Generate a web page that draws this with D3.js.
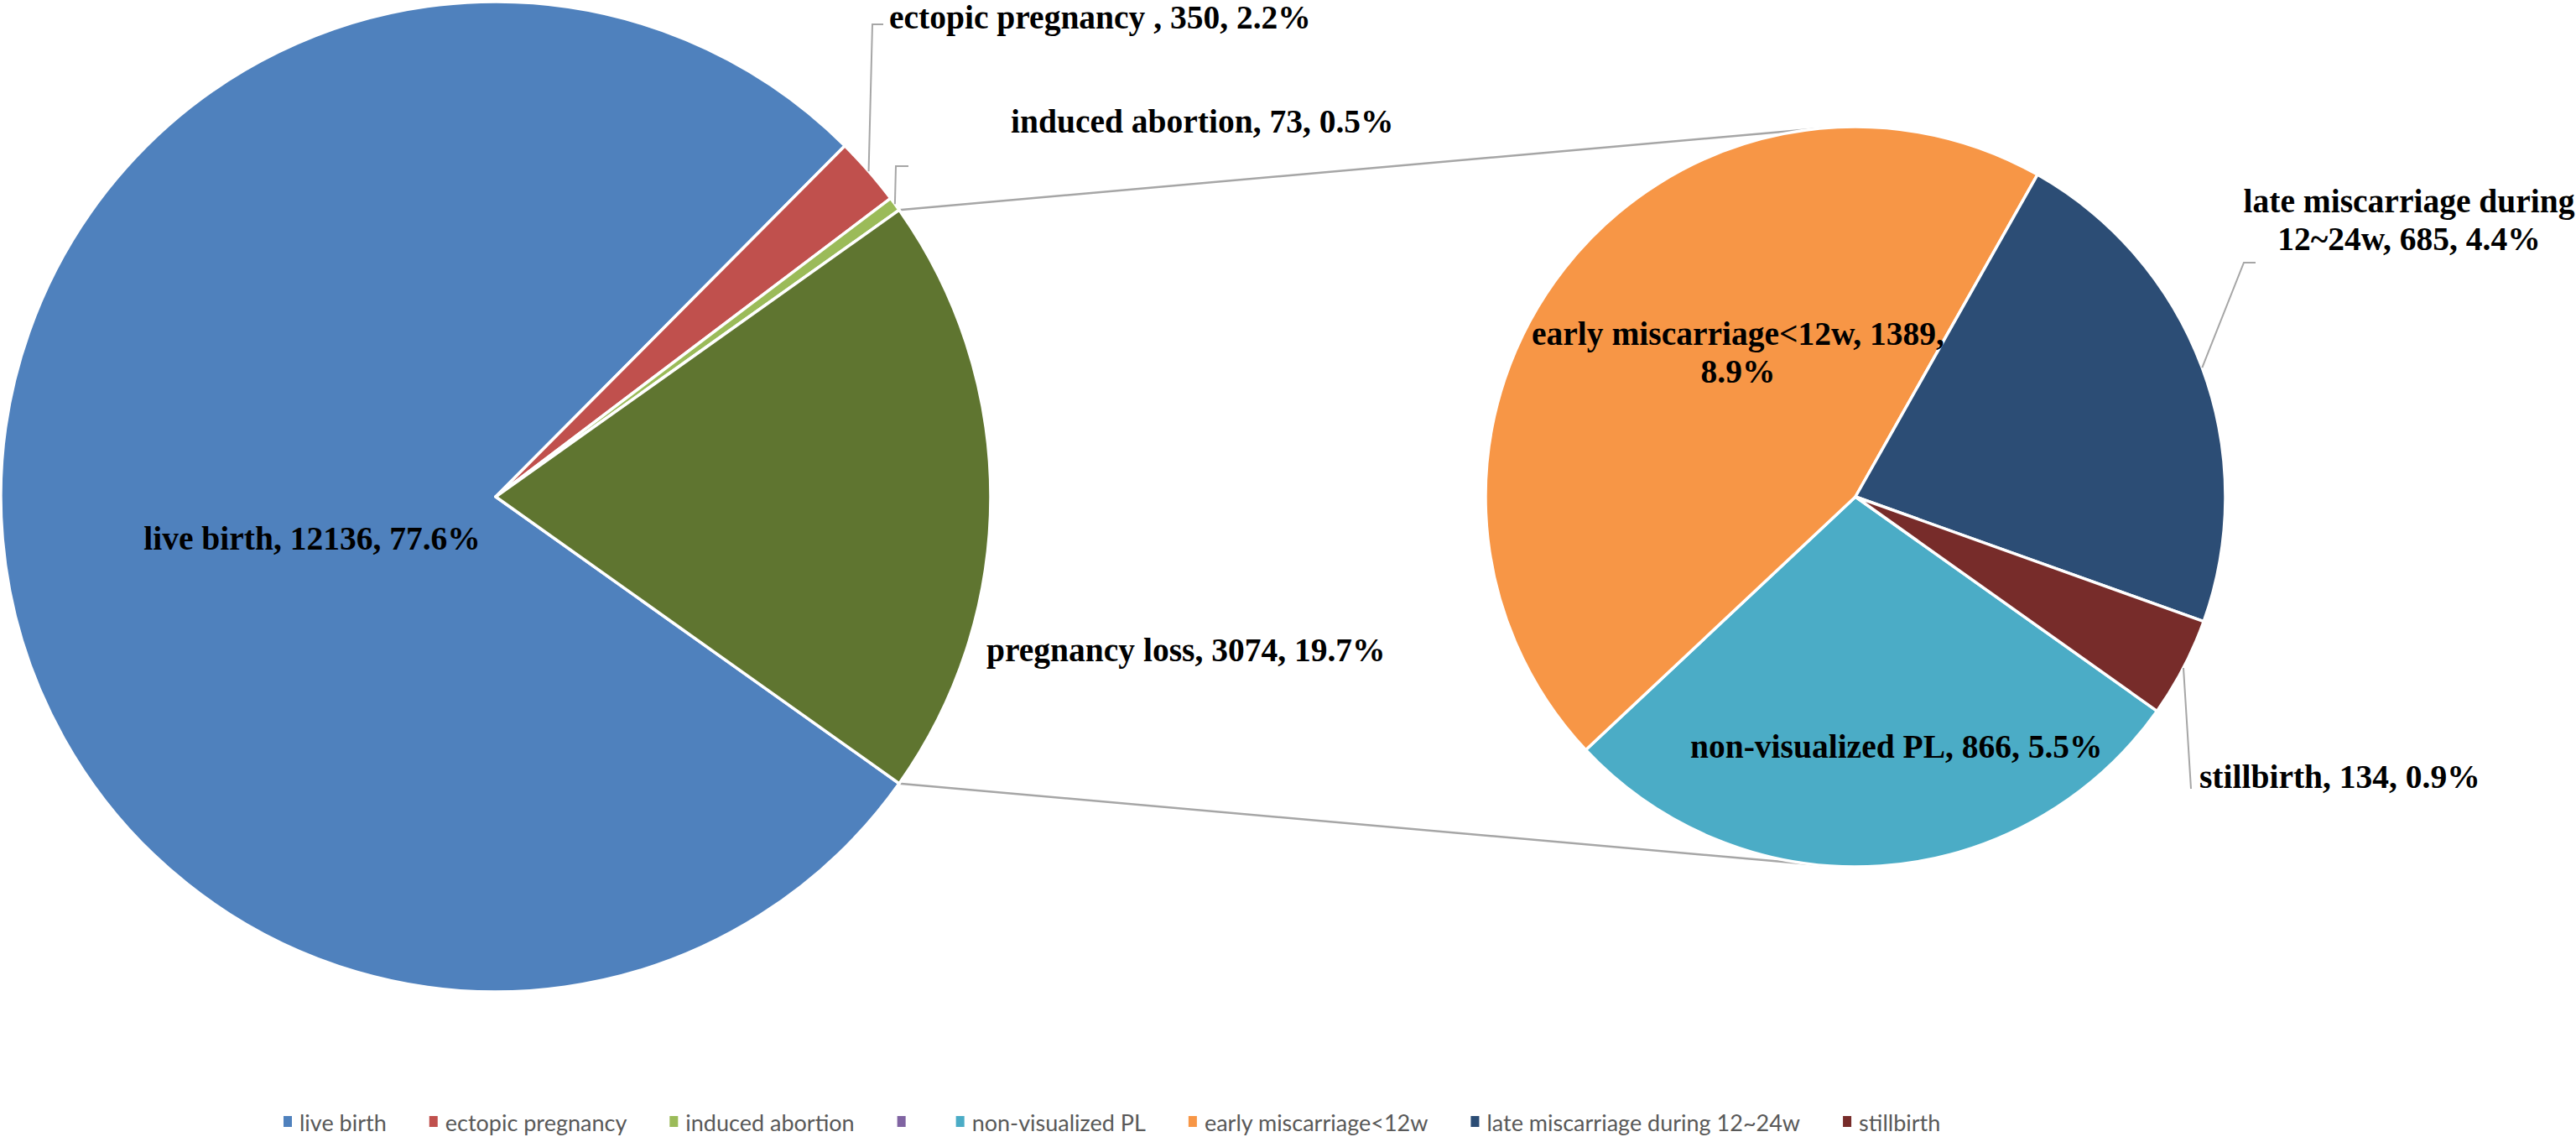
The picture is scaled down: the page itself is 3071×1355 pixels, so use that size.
<!DOCTYPE html>
<html>
<head>
<meta charset="utf-8">
<script src="https://cdn.jsdelivr.net/npm/d3@7"></script>
<style>
  body { margin: 0; background: #fff; }
  svg { display: block; }
</style>
</head>
<body>
<div id="chart"></div>
<script>
// ----------------------------------------
// DATA
// ----------------------------------------
const mainCategories = ["live birth", "ectopic pregnancy ", "induced abortion", "pregnancy loss"];
const mainCounts = [12136, 350, 73, 3074];
const mainColors = ["#4F81BD", "#C0504D", "#9BBB59", "#5F7530"];

const subCategories = ["non-visualized PL", "early miscarriage<12w", "late miscarriage during 12~24w", "stillbirth"];
const subCounts = [866, 1389, 685, 134];
const subColors = ["#4BACC6", "#F79646", "#2C4D75", "#772C2A"];

const legendLabels = ["live birth", "ectopic pregnancy", "induced abortion", "",
  "non-visualized PL", "early miscarriage<12w", "late miscarriage during 12~24w", "stillbirth"];
const legendColors = ["#4F81BD", "#C0504D", "#9BBB59", "#8064A2",
  "#4BACC6", "#F79646", "#2C4D75", "#772C2A"];

// ----------------------------------------
// LAYOUT
// ----------------------------------------
const width = 3071, height = 1355;
const left = { cx: 591, cy: 592, r: 590 };
const right = { cx: 2212, cy: 592, r: 441 };

// label placement per category (x, y, anchor, line break, leader elbow)
const mainLabelPos = [
  { x: 372, y: 642, anchor: "middle" },
  { x: 1060, y: 21, anchor: "start", leader: [[1040, 29], [1053, 29]] },
  { x: 1205, y: 145, anchor: "start", leader: [[1068, 198], [1083, 198]] },
  { x: 1176, y: 775, anchor: "start" }
];
const subLabelPos = [
  { x: 2015, y: 890, anchor: "start" },
  { x: 2072, y: 398, anchor: "middle", breakAfter: 3 },
  { x: 2872, y: 240, anchor: "middle", breakAfter: 3, leader: [[2675, 313], [2689, 313]] },
  { x: 2622, y: 926, anchor: "start", leader: [[2612, 940]] }
];

const labelFont = "'Liberation Serif', 'Times New Roman', serif";
const lineColor = "#A6A6A6";

const svg = d3.select("#chart")
  .append("svg")
  .attr("width", width)
  .attr("height", height)
  .attr("viewBox", `0 0 ${width} ${height}`);

const total = d3.sum(mainCounts);
const pct = v => (v / total * 100).toFixed(1) + "%";

// Excel puts the "other" slice centred at 3 o'clock, second pie uses same start
const startA = Math.PI / 2 + Math.PI * mainCounts[3] / total;

const pie = d3.pie().sort(null).startAngle(startA).endAngle(startA + 2 * Math.PI);
const mainArcs = pie(mainCounts);
const subArcs = pie(subCounts);

const onCircle = (c, r, a) => [c.cx + r * Math.sin(a), c.cy - r * Math.cos(a)];

// tangent point on circle c from external point p
function tangent(p, c, upper) {
  const vx = p[0] - c.cx, vy = p[1] - c.cy;
  const d = Math.hypot(vx, vy);
  const base = Math.atan2(vy, vx);
  const off = Math.acos(c.r / d);
  const cands = [base + off, base - off].map(t => [c.cx + c.r * Math.cos(t), c.cy + c.r * Math.sin(t)]);
  return cands.sort((a, b) => upper ? a[1] - b[1] : b[1] - a[1])[0];
}

// ----------------------------------------
// CONNECTOR LINES (drawn under pies)
// ----------------------------------------
const loss = mainArcs[3];
const topP = onCircle(left, left.r, loss.startAngle);
const botP = onCircle(left, left.r, loss.endAngle);

svg.append("g")
  .selectAll("line")
  .data([[topP, tangent(topP, right, true)], [botP, tangent(botP, right, false)]])
  .join("line")
  .attr("x1", d => d[0][0]).attr("y1", d => d[0][1])
  .attr("x2", d => d[1][0]).attr("y2", d => d[1][1])
  .attr("stroke", lineColor)
  .attr("stroke-width", 2.5);

// ----------------------------------------
// PIES
// ----------------------------------------
const arcL = d3.arc().innerRadius(0).outerRadius(left.r);
const arcR = d3.arc().innerRadius(0).outerRadius(right.r);

svg.append("g")
  .attr("transform", `translate(${left.cx},${left.cy})`)
  .selectAll("path")
  .data(mainArcs)
  .join("path")
  .attr("d", arcL)
  .attr("fill", (d, i) => mainColors[i])
  .attr("stroke", "#fff")
  .attr("stroke-width", 3.5)
  .attr("stroke-linejoin", "round");

svg.append("g")
  .attr("transform", `translate(${right.cx},${right.cy})`)
  .selectAll("path")
  .data(subArcs)
  .join("path")
  .attr("d", arcR)
  .attr("fill", (d, i) => subColors[i])
  .attr("stroke", "#fff")
  .attr("stroke-width", 3.5)
  .attr("stroke-linejoin", "round");

// ----------------------------------------
// DATA LABELS + LEADERS
// ----------------------------------------
const labels = [
  ...mainArcs.map((a, i) => ({ arc: a, c: left, text: `${mainCategories[i]}, ${mainCounts[i]}, ${pct(mainCounts[i])}`, pos: mainLabelPos[i] })),
  ...subArcs.map((a, i) => ({ arc: a, c: right, text: `${subCategories[i]}, ${subCounts[i]}, ${pct(subCounts[i])}`, pos: subLabelPos[i] }))
];

const lineGen = d3.line();

svg.append("g")
  .selectAll("path")
  .data(labels.filter(d => d.pos.leader))
  .join("path")
  .attr("d", d => {
    const mid = (d.arc.startAngle + d.arc.endAngle) / 2;
    return lineGen([onCircle(d.c, d.c.r, mid), ...d.pos.leader]);
  })
  .attr("fill", "none")
  .attr("stroke", lineColor)
  .attr("stroke-width", 2);

const lineH = 45;

svg.append("g")
  .selectAll("text")
  .data(labels)
  .join("text")
  .attr("x", d => d.pos.x)
  .attr("y", d => d.pos.y)
  .attr("text-anchor", d => d.pos.anchor)
  .attr("font-family", labelFont)
  .attr("font-weight", "bold")
  .attr("font-size", 39.5)
  .attr("fill", "#000")
  .each(function (d) {
    const words = d.text.split(" ");
    const lines = d.pos.breakAfter
      ? [words.slice(0, d.pos.breakAfter).join(" "), words.slice(d.pos.breakAfter).join(" ")]
      : [d.text];
    d3.select(this).selectAll("tspan")
      .data(lines)
      .join("tspan")
      .attr("x", d.pos.x)
      .attr("y", (l, j) => d.pos.y + j * lineH)
      .attr("dominant-baseline", "central")
      .text(l => l);
  });

// ----------------------------------------
// LEGEND
// ----------------------------------------
const legend = svg.append("g").attr("transform", "translate(338,1337)");
let lx = 0;
legendLabels.forEach((lab, i) => {
  const item = legend.append("g").attr("transform", `translate(${lx},0)`);
  item.append("rect")
    .attr("x", 0).attr("y", -7)
    .attr("width", 10).attr("height", 13)
    .attr("fill", legendColors[i]);
  const t = item.append("text")
    .attr("x", 19)
    .attr("y", 0)
    .attr("dominant-baseline", "central")
    .attr("font-family", "Lato, 'Open Sans', sans-serif")
    .attr("font-size", 27)
    .attr("fill", "#595959")
    .text(lab);
  lx += 19 + t.node().getComputedTextLength() + 51;
});
</script>
</body>
</html>
